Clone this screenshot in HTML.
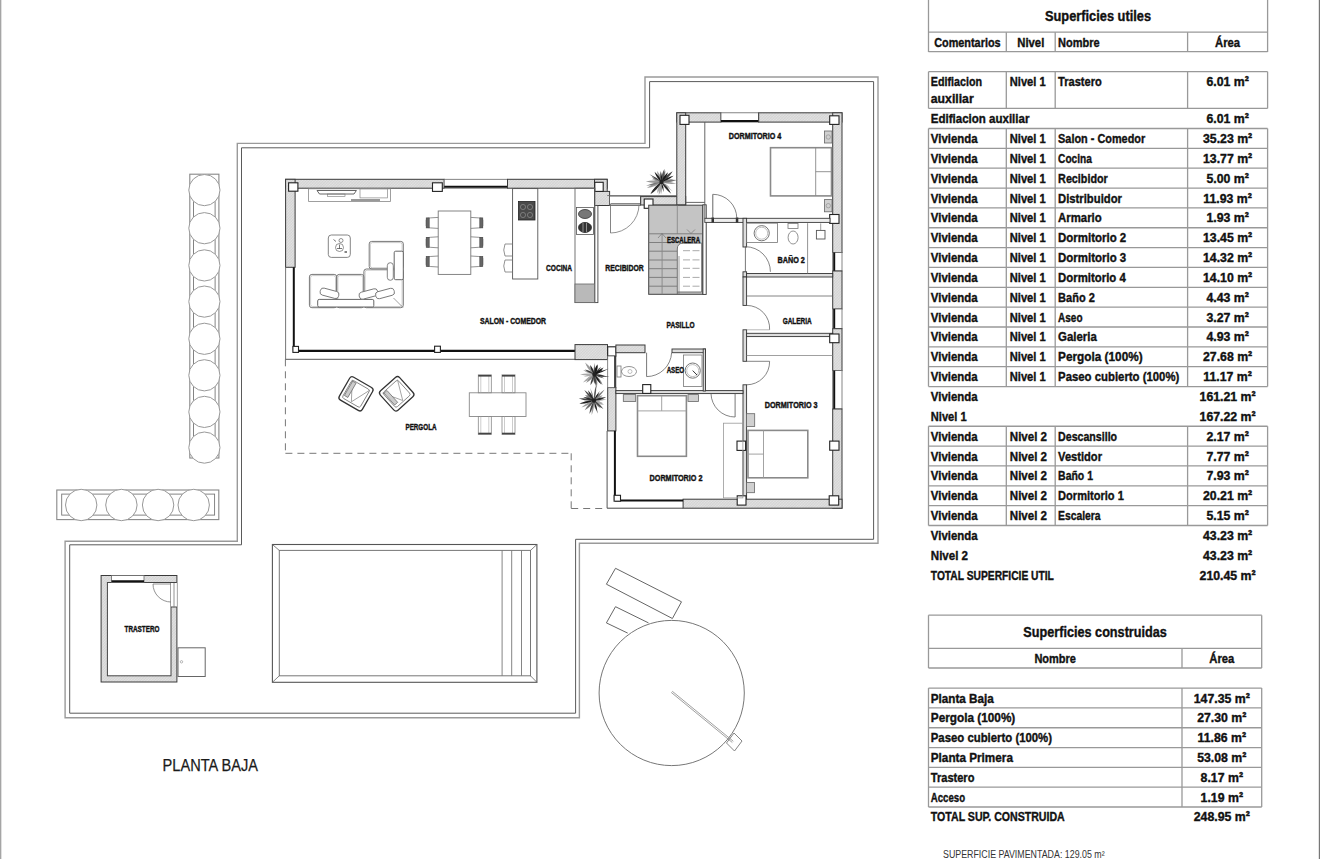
<!DOCTYPE html>
<html><head><meta charset="utf-8"><style>
html,body{margin:0;padding:0;background:#fff;width:1320px;height:859px;overflow:hidden}
svg{display:block;font-family:"Liberation Sans",sans-serif}
</style></head><body>
<svg width="1320" height="859" viewBox="0 0 1320 859">
<defs>
<pattern id="hat" patternUnits="userSpaceOnUse" width="2" height="2" patternTransform="rotate(45)">
<rect width="2" height="2" fill="#e4e4e4"/><line x1="0" y1="0" x2="0" y2="2" stroke="#c2c2c2" stroke-width="0.8"/><line x1="0" y1="0" x2="2" y2="0" stroke="#c8c8c8" stroke-width="0.6"/></pattern>
</defs>
<rect width="1320" height="859" fill="#fff"/>
<line x1="0.5" y1="0" x2="0.5" y2="859" stroke="#a5a5a5" stroke-width="1"/>
<line x1="1.5" y1="0" x2="1.5" y2="859" stroke="#e0e0e0" stroke-width="1"/>
<line x1="1319.4" y1="0" x2="1319.4" y2="859" stroke="#777" stroke-width="1.2"/>
<g id="plan">
<polygon points="645.0,77.0 878.0,77.0 878.0,543.2 579.4,543.2 579.4,717.8 65.1,717.8 65.1,541.3 237.3,541.3 237.3,143.4 645.0,143.4" fill="none" stroke="#9a9a9a" stroke-width="1.4"/>
<polygon points="649.6,81.6 873.6,81.6 873.6,539.3 575.6,539.3 575.6,713.2 69.7,713.2 69.7,544.8 241.5,544.8 241.5,147.8 649.6,147.8" fill="none" stroke="#5a5a5a" stroke-width="1"/>
<rect x="189.8" y="174.2" width="29.1" height="283.8" fill="none" stroke="#888" stroke-width="1.1" />
<rect x="193.5" y="182.0" width="21.6" height="268.0" fill="none" stroke="#777" stroke-width="0.9" />
<circle cx="204.4" cy="190.1" r="15.6" fill="#fff" stroke="#999" stroke-width="1"/>
<circle cx="204.4" cy="228.2" r="15.6" fill="#fff" stroke="#999" stroke-width="1"/>
<circle cx="204.4" cy="265.4" r="15.6" fill="#fff" stroke="#999" stroke-width="1"/>
<circle cx="204.4" cy="301.6" r="15.6" fill="#fff" stroke="#999" stroke-width="1"/>
<circle cx="204.4" cy="338.8" r="15.6" fill="#fff" stroke="#999" stroke-width="1"/>
<circle cx="204.4" cy="375.3" r="15.6" fill="#fff" stroke="#999" stroke-width="1"/>
<circle cx="204.4" cy="411.9" r="15.6" fill="#fff" stroke="#999" stroke-width="1"/>
<circle cx="204.4" cy="447.6" r="15.6" fill="#fff" stroke="#999" stroke-width="1"/>
<rect x="56.8" y="490.0" width="162.0" height="29.6" fill="none" stroke="#888" stroke-width="1.1" />
<rect x="61.7" y="494.1" width="152.9" height="21.0" fill="none" stroke="#777" stroke-width="0.9" />
<circle cx="81.2" cy="505.0" r="15.7" fill="#fff" stroke="#999" stroke-width="1"/>
<circle cx="121.4" cy="505.0" r="15.7" fill="#fff" stroke="#999" stroke-width="1"/>
<circle cx="158.1" cy="505.0" r="15.7" fill="#fff" stroke="#999" stroke-width="1"/>
<circle cx="193.7" cy="505.0" r="15.7" fill="#fff" stroke="#999" stroke-width="1"/>
<rect x="272.4" y="544.5" width="264.5" height="137.8" fill="none" stroke="#555" stroke-width="1.1" />
<rect x="279.3" y="550.4" width="251.2" height="125.4" fill="none" stroke="#777" stroke-width="1" />
<line x1="272.4" y1="544.5" x2="279.3" y2="550.4" stroke="#666" stroke-width="0.8"/>
<line x1="536.9" y1="544.5" x2="530.5" y2="550.4" stroke="#666" stroke-width="0.8"/>
<line x1="272.4" y1="682.3" x2="279.3" y2="675.8" stroke="#666" stroke-width="0.8"/>
<line x1="536.9" y1="682.3" x2="530.5" y2="675.8" stroke="#666" stroke-width="0.8"/>
<line x1="502.1" y1="550.4" x2="502.1" y2="675.8" stroke="#777" stroke-width="0.9"/>
<line x1="511.7" y1="550.4" x2="511.7" y2="675.8" stroke="#777" stroke-width="0.9"/>
<line x1="521.5" y1="550.4" x2="521.5" y2="675.8" stroke="#777" stroke-width="0.9"/>
<rect x="101.1" y="575.5" width="75.8" height="106.5" fill="url(#hat)" stroke="#3a3a3a" stroke-width="1" />
<rect x="107.4" y="582.5" width="63.6" height="93.3" fill="#fff" stroke="#444" stroke-width="1" />
<rect x="111.6" y="575.5" width="32.4" height="7.0" fill="#fff" stroke="#666" stroke-width="0.8" />
<line x1="111.6" y1="581.2" x2="144.0" y2="581.2" stroke="#111" stroke-width="2"/>
<rect x="171.0" y="582.5" width="5.9" height="24.5" fill="#fff" stroke="none" stroke-width="0" />
<line x1="171.0" y1="582.5" x2="176.9" y2="582.5" stroke="#444" stroke-width="1"/>
<line x1="171.0" y1="607.0" x2="176.9" y2="607.0" stroke="#444" stroke-width="1"/>
<line x1="174.0" y1="583.0" x2="174.0" y2="607.0" stroke="#777" stroke-width="0.8"/>
<path d="M153,584 A18,18 0 0 0 171,602" fill="none" stroke="#777" stroke-width="0.8"/>
<line x1="153.0" y1="584.0" x2="171.0" y2="584.0" stroke="#777" stroke-width="0.8"/>
<rect x="178.0" y="647.8" width="27.2" height="28.7" fill="none" stroke="#666" stroke-width="1" />
<circle cx="181.5" cy="661.8" r="1.2" fill="none" stroke="#888" stroke-width="0.6"/>
<text x="142.0" y="632.3" font-size="8.8" font-weight="bold" text-anchor="middle" textLength="35.0" lengthAdjust="spacingAndGlyphs" fill="#111" stroke="#111" stroke-width="0.4">TRASTERO</text>
<line x1="285.4" y1="359.3" x2="285.4" y2="453.3" stroke="#777" stroke-width="1" stroke-dasharray="7,5"/>
<line x1="285.4" y1="453.3" x2="571.2" y2="453.3" stroke="#777" stroke-width="1" stroke-dasharray="7,5"/>
<line x1="571.2" y1="453.3" x2="571.2" y2="508.5" stroke="#777" stroke-width="1" stroke-dasharray="7,5"/>
<line x1="571.2" y1="508.5" x2="607.0" y2="508.5" stroke="#777" stroke-width="1" stroke-dasharray="7,5"/>
<line x1="285.4" y1="359.3" x2="575.0" y2="359.3" stroke="#555" stroke-width="1"/>
<rect x="285.6" y="179.3" width="158.6" height="8.9" fill="url(#hat)" stroke="#3a3a3a" stroke-width="1" />
<rect x="444.2" y="179.3" width="63.3" height="8.9" fill="#fff" stroke="#666" stroke-width="0.8" />
<line x1="444.2" y1="186.8" x2="507.5" y2="186.8" stroke="#111" stroke-width="2"/>
<rect x="507.5" y="179.3" width="99.7" height="8.9" fill="url(#hat)" stroke="#3a3a3a" stroke-width="1" />
<rect x="594.5" y="179.3" width="12.7" height="16.8" fill="url(#hat)" stroke="#3a3a3a" stroke-width="1" />
<rect x="594.5" y="191.4" width="15.1" height="14.1" fill="url(#hat)" stroke="#3a3a3a" stroke-width="1" />
<rect x="285.6" y="179.3" width="9.5" height="88.0" fill="url(#hat)" stroke="#3a3a3a" stroke-width="1" />
<line x1="285.6" y1="267.3" x2="285.6" y2="359.3" stroke="#666" stroke-width="0.9"/>
<line x1="293.8" y1="267.3" x2="293.8" y2="350.4" stroke="#111" stroke-width="2"/>
<line x1="293.0" y1="350.8" x2="575.0" y2="350.8" stroke="#111" stroke-width="2.2"/>
<rect x="288.6" y="182.8" width="9.3" height="8.4" fill="#fff" stroke="#222" stroke-width="1.1" />
<rect x="432.5" y="182.8" width="9.8" height="8.6" fill="#fff" stroke="#222" stroke-width="1.1" />
<rect x="594.8" y="182.3" width="8.4" height="9.1" fill="#fff" stroke="#222" stroke-width="1.1" />
<rect x="292.9" y="346.4" width="5.6" height="6.0" fill="#fff" stroke="#222" stroke-width="1.1" />
<rect x="434.6" y="346.2" width="5.8" height="6.2" fill="#fff" stroke="#222" stroke-width="1.1" />
<rect x="575.0" y="344.6" width="32.5" height="15.0" fill="url(#hat)" stroke="#3a3a3a" stroke-width="1" />
<rect x="607.7" y="346.8" width="8.2" height="9.3" fill="#fff" stroke="#222" stroke-width="1.1" />
<rect x="615.9" y="345.0" width="29.1" height="7.7" fill="url(#hat)" stroke="#3a3a3a" stroke-width="1" />
<rect x="594.6" y="205.5" width="3.3" height="97.1" fill="#fff" stroke="#444" stroke-width="0.9" />
<rect x="575.0" y="188.2" width="19.9" height="114.4" fill="none" stroke="#666" stroke-width="0.9" />
<rect x="575.0" y="284.0" width="19.6" height="18.6" fill="#b9b9b9" stroke="#666" stroke-width="0.8" />
<rect x="576.5" y="207.5" width="17.0" height="27.0" fill="#fff" stroke="#555" stroke-width="0.8" />
<ellipse cx="585" cy="214" rx="6.5" ry="4.5" fill="#777" stroke="#333" stroke-width="0.8"/>
<ellipse cx="585" cy="227.5" rx="6.5" ry="5" fill="#333" stroke="#222" stroke-width="0.8"/>
<line x1="583.0" y1="223.0" x2="583.0" y2="232.0" stroke="#aaa" stroke-width="0.8"/>
<line x1="586.5" y1="223.0" x2="586.5" y2="232.0" stroke="#aaa" stroke-width="0.8"/>
<rect x="512.6" y="188.6" width="25.2" height="90.4" fill="none" stroke="#555" stroke-width="0.9" />
<rect x="518.5" y="201.5" width="16.5" height="18.5" fill="#4a4a4a" stroke="#222" stroke-width="0.8" />
<circle cx="523.0" cy="207.0" r="2.6" fill="none" stroke="#999" stroke-width="0.6"/>
<circle cx="530.0" cy="207.0" r="2.6" fill="none" stroke="#999" stroke-width="0.6"/>
<circle cx="523.0" cy="215.0" r="2.6" fill="none" stroke="#999" stroke-width="0.6"/>
<circle cx="530.0" cy="215.0" r="2.6" fill="none" stroke="#999" stroke-width="0.6"/>
<path d="M512.6,244 L505,244 Q502.5,250 505,256 L512.6,256" fill="none" stroke="#777" stroke-width="0.8"/>
<path d="M512.6,260 L505,260 Q502.5,266 505,272 L512.6,272" fill="none" stroke="#777" stroke-width="0.8"/>
<rect x="609.6" y="196.1" width="30.9" height="9.4" fill="#fff" stroke="#555" stroke-width="0.8" />
<line x1="610.5" y1="203.8" x2="640.0" y2="203.8" stroke="#888" stroke-width="1.6"/>
<line x1="610.5" y1="204.0" x2="610.5" y2="233.0" stroke="#666" stroke-width="0.8"/>
<path d="M610.5,233 A28.5,28.5 0 0 0 639,204.5" fill="none" stroke="#777" stroke-width="0.8"/>
<rect x="640.7" y="196.6" width="45.0" height="8.4" fill="url(#hat)" stroke="#3a3a3a" stroke-width="1" />
<rect x="644.2" y="199.0" width="8.8" height="9.3" fill="#fff" stroke="#222" stroke-width="1.1" />
<line x1="607.2" y1="195.5" x2="676.8" y2="195.5" stroke="#666" stroke-width="0.8"/>
<rect x="648.7" y="205.2" width="54.2" height="89.1" fill="#c4c4c4" stroke="#444" stroke-width="1" />
<line x1="677.3" y1="205.2" x2="677.3" y2="233.8" stroke="#8a8a8a" stroke-width="0.9"/>
<line x1="648.7" y1="233.8" x2="702.9" y2="233.8" stroke="#777" stroke-width="0.9"/>
<line x1="648.7" y1="242.5" x2="677.3" y2="242.5" stroke="#777" stroke-width="0.9"/>
<line x1="648.7" y1="251.2" x2="677.3" y2="251.2" stroke="#777" stroke-width="0.9"/>
<line x1="648.7" y1="260.0" x2="677.3" y2="260.0" stroke="#777" stroke-width="0.9"/>
<line x1="648.7" y1="268.7" x2="677.3" y2="268.7" stroke="#777" stroke-width="0.9"/>
<line x1="648.7" y1="277.4" x2="677.3" y2="277.4" stroke="#777" stroke-width="0.9"/>
<line x1="648.7" y1="286.2" x2="677.3" y2="286.2" stroke="#777" stroke-width="0.9"/>
<line x1="662.1" y1="233.8" x2="662.1" y2="294.3" stroke="#888" stroke-width="0.9"/>
<path d="M677.3,294 L677.3,249 Q677.3,243.1 683.5,243.1 L701.7,243.1 L701.7,292 L677.3,292" fill="#fff" stroke="#666" stroke-width="0.9"/>
<line x1="679.0" y1="256.0" x2="679.0" y2="294.0" stroke="#777" stroke-width="0.7"/>
<line x1="683.0" y1="250.7" x2="690.0" y2="250.7" stroke="#aaa" stroke-width="1"/>
<line x1="692.5" y1="250.7" x2="699.5" y2="250.7" stroke="#aaa" stroke-width="1"/>
<line x1="683.0" y1="259.9" x2="690.0" y2="259.9" stroke="#aaa" stroke-width="1"/>
<line x1="692.5" y1="259.9" x2="699.5" y2="259.9" stroke="#aaa" stroke-width="1"/>
<line x1="683.0" y1="268.3" x2="690.0" y2="268.3" stroke="#aaa" stroke-width="1"/>
<line x1="692.5" y1="268.3" x2="699.5" y2="268.3" stroke="#aaa" stroke-width="1"/>
<line x1="683.0" y1="277.4" x2="690.0" y2="277.4" stroke="#aaa" stroke-width="1"/>
<line x1="692.5" y1="277.4" x2="699.5" y2="277.4" stroke="#aaa" stroke-width="1"/>
<line x1="683.0" y1="286.2" x2="690.0" y2="286.2" stroke="#aaa" stroke-width="1"/>
<line x1="692.5" y1="286.2" x2="699.5" y2="286.2" stroke="#aaa" stroke-width="1"/>
<path d="M658,238 L662,233.5 L666,238" fill="none" stroke="#666" stroke-width="0.6"/>
<path d="M687,229.5 L691,233.5 L695,229.5" fill="none" stroke="#666" stroke-width="0.6"/>
<rect x="702.9" y="204.8" width="3.3" height="89.6" fill="#fff" stroke="#333" stroke-width="0.9" />
<rect x="676.8" y="112.8" width="44.2" height="9.3" fill="url(#hat)" stroke="#3a3a3a" stroke-width="1" />
<rect x="721.0" y="112.8" width="37.7" height="9.3" fill="#fff" stroke="#666" stroke-width="0.8" />
<line x1="721.0" y1="121.0" x2="758.7" y2="121.0" stroke="#111" stroke-width="2"/>
<rect x="758.7" y="112.8" width="83.3" height="9.3" fill="url(#hat)" stroke="#3a3a3a" stroke-width="1" />
<rect x="676.8" y="112.8" width="8.9" height="92.0" fill="url(#hat)" stroke="#3a3a3a" stroke-width="1" />
<rect x="832.7" y="112.8" width="9.3" height="139.7" fill="url(#hat)" stroke="#3a3a3a" stroke-width="1" />
<rect x="832.7" y="252.5" width="9.3" height="18.5" fill="#fff" stroke="#666" stroke-width="0.8" />
<line x1="834.2" y1="252.5" x2="834.2" y2="271.0" stroke="#111" stroke-width="2"/>
<rect x="832.7" y="271.0" width="9.3" height="38.0" fill="url(#hat)" stroke="#3a3a3a" stroke-width="1" />
<rect x="832.7" y="309.0" width="9.3" height="19.7" fill="#fff" stroke="#666" stroke-width="0.8" />
<line x1="834.2" y1="309.0" x2="834.2" y2="328.7" stroke="#111" stroke-width="2"/>
<rect x="832.7" y="328.7" width="9.3" height="41.9" fill="url(#hat)" stroke="#3a3a3a" stroke-width="1" />
<rect x="832.7" y="370.6" width="9.3" height="38.4" fill="#fff" stroke="#666" stroke-width="0.8" />
<line x1="834.2" y1="370.6" x2="834.2" y2="409.0" stroke="#111" stroke-width="2"/>
<rect x="832.7" y="409.0" width="9.3" height="99.2" fill="url(#hat)" stroke="#3a3a3a" stroke-width="1" />
<rect x="680.0" y="115.3" width="9.0" height="9.1" fill="#fff" stroke="#222" stroke-width="1.1" />
<rect x="829.7" y="115.8" width="9.3" height="8.6" fill="#fff" stroke="#222" stroke-width="1.1" />
<rect x="829.7" y="214.5" width="9.3" height="8.9" fill="#fff" stroke="#222" stroke-width="1.1" />
<line x1="704.8" y1="122.1" x2="704.8" y2="218.7" stroke="#555" stroke-width="0.9"/>
<line x1="685.7" y1="202.4" x2="704.8" y2="202.4" stroke="#555" stroke-width="0.9"/>
<rect x="704.8" y="218.3" width="125.2" height="4.1" fill="#eee" stroke="#3a3a3a" stroke-width="0.9" />
<rect x="711.5" y="217.5" width="2.5" height="5.0" fill="#333" stroke="none" stroke-width="0" />
<rect x="735.8" y="217.5" width="2.5" height="5.0" fill="#333" stroke="none" stroke-width="0" />
<line x1="712.8" y1="194.3" x2="712.8" y2="218.3" stroke="#555" stroke-width="0.9"/>
<path d="M712.8,194.3 A24,24 0 0 1 736.8,218.3" fill="none" stroke="#666" stroke-width="0.8"/>
<rect x="770.5" y="147.7" width="61.0" height="48.2" fill="none" stroke="#8a8a8a" stroke-width="1.6" />
<line x1="815.7" y1="147.7" x2="815.7" y2="195.9" stroke="#888" stroke-width="0.9"/>
<line x1="815.7" y1="171.7" x2="831.5" y2="171.7" stroke="#888" stroke-width="0.9"/>
<rect x="824.6" y="131.0" width="7.4" height="12.0" fill="#d0d0d0" stroke="#666" stroke-width="0.8" />
<rect x="824.6" y="199.6" width="7.4" height="12.2" fill="#d0d0d0" stroke="#666" stroke-width="0.8" />
<circle cx="828.3" cy="137.0" r="2.2" fill="none" stroke="#888" stroke-width="0.6"/>
<circle cx="828.3" cy="205.7" r="2.2" fill="none" stroke="#888" stroke-width="0.6"/>
<text x="755.0" y="138.9" font-size="8.8" font-weight="bold" text-anchor="middle" textLength="52.4" lengthAdjust="spacingAndGlyphs" fill="#111" stroke="#111" stroke-width="0.4">DORMITORIO 4</text>
<rect x="743.0" y="218.3" width="3.6" height="28.7" fill="#ddd" stroke="#333" stroke-width="0.9" />
<rect x="743.0" y="271.8" width="3.6" height="5.2" fill="#ddd" stroke="#333" stroke-width="0.9" />
<rect x="746.6" y="273.5" width="86.1" height="3.5" fill="#ddd" stroke="#333" stroke-width="0.9" />
<rect x="746.6" y="223.2" width="30.9" height="19.3" fill="none" stroke="#777" stroke-width="0.8" />
<circle cx="761.7" cy="233.2" r="7.6" fill="none" stroke="#666" stroke-width="0.9"/>
<circle cx="761.7" cy="233.2" r="6.0" fill="none" stroke="#999" stroke-width="0.6"/>
<line x1="807.6" y1="223.2" x2="807.6" y2="273.5" stroke="#777" stroke-width="0.8"/>
<ellipse cx="793.1" cy="237.5" rx="5" ry="6.5" fill="none" stroke="#777" stroke-width="0.8"/>
<rect x="788.0" y="223.4" width="10.0" height="5.1" fill="none" stroke="#777" stroke-width="0.8" />
<rect x="816.4" y="230.4" width="8.6" height="8.6" fill="none" stroke="#555" stroke-width="0.9" />
<line x1="820.7" y1="223.4" x2="820.7" y2="230.4" stroke="#777" stroke-width="0.7"/>
<line x1="745.4" y1="246.7" x2="745.4" y2="271.8" stroke="#555" stroke-width="0.8"/>
<path d="M745.4,246.7 A25,25 0 0 1 770.4,271.8" fill="none" stroke="#666" stroke-width="0.8"/>
<text x="791.2" y="263.2" font-size="8.8" font-weight="bold" text-anchor="middle" textLength="27.3" lengthAdjust="spacingAndGlyphs" fill="#111" stroke="#111" stroke-width="0.4">BAÑO 2</text>
<rect x="743.0" y="277.0" width="3.6" height="28.4" fill="#ddd" stroke="#333" stroke-width="0.9" />
<rect x="743.0" y="329.8" width="3.6" height="31.5" fill="#ddd" stroke="#333" stroke-width="0.9" />
<rect x="746.6" y="333.3" width="86.1" height="3.3" fill="#ddd" stroke="#333" stroke-width="0.9" />
<line x1="746.6" y1="296.0" x2="832.7" y2="296.0" stroke="#666" stroke-width="0.8"/>
<path d="M746.6,305.4 A23,23 0 0 1 769.6,329.8" fill="none" stroke="#666" stroke-width="0.8"/>
<line x1="746.6" y1="329.8" x2="769.6" y2="329.8" stroke="#888" stroke-width="0.6"/>
<text x="797.2" y="323.8" font-size="8.8" font-weight="bold" text-anchor="middle" textLength="29.1" lengthAdjust="spacingAndGlyphs" fill="#111" stroke="#111" stroke-width="0.4">GALERIA</text>
<rect x="829.7" y="334.0" width="9.3" height="8.7" fill="#fff" stroke="#222" stroke-width="1.1" />
<line x1="746.6" y1="355.5" x2="832.7" y2="355.5" stroke="#888" stroke-width="0.8"/>
<line x1="746.6" y1="361.3" x2="769.6" y2="361.3" stroke="#666" stroke-width="0.8"/>
<path d="M769.6,361.3 A23,23 0 0 1 746.6,384.8" fill="none" stroke="#666" stroke-width="0.8"/>
<rect x="743.0" y="384.8" width="3.6" height="115.2" fill="#ddd" stroke="#333" stroke-width="0.9" />
<rect x="737.0" y="441.1" width="8.6" height="9.3" fill="#fff" stroke="#222" stroke-width="1.1" />
<rect x="829.7" y="441.1" width="9.3" height="9.1" fill="#fff" stroke="#222" stroke-width="1.1" />
<rect x="748.0" y="430.4" width="59.8" height="47.4" fill="none" stroke="#8a8a8a" stroke-width="1.6" />
<line x1="763.5" y1="430.4" x2="763.5" y2="477.8" stroke="#999" stroke-width="0.9"/>
<line x1="748.0" y1="454.1" x2="763.5" y2="454.1" stroke="#999" stroke-width="0.9"/>
<rect x="746.6" y="413.7" width="8.1" height="12.8" fill="#d0d0d0" stroke="#666" stroke-width="0.8" />
<rect x="746.6" y="482.4" width="7.9" height="10.3" fill="#d0d0d0" stroke="#666" stroke-width="0.8" />
<text x="791.2" y="408.4" font-size="8.8" font-weight="bold" text-anchor="middle" textLength="52.8" lengthAdjust="spacingAndGlyphs" fill="#111" stroke="#111" stroke-width="0.4">DORMITORIO 3</text>
<rect x="683.1" y="499.2" width="158.9" height="9.0" fill="url(#hat)" stroke="#3a3a3a" stroke-width="1" />
<rect x="737.2" y="495.8" width="8.8" height="9.3" fill="#fff" stroke="#222" stroke-width="1.1" />
<rect x="829.2" y="495.8" width="9.5" height="9.3" fill="#fff" stroke="#222" stroke-width="1.1" />
<rect x="607.7" y="387.6" width="8.2" height="43.3" fill="url(#hat)" stroke="#3a3a3a" stroke-width="1" />
<line x1="615.9" y1="430.9" x2="615.9" y2="431.0" stroke="#666" stroke-width="0.5"/>
<line x1="614.9" y1="430.9" x2="614.9" y2="500.0" stroke="#111" stroke-width="2"/>
<line x1="607.1" y1="430.9" x2="607.1" y2="508.2" stroke="#555" stroke-width="1"/>
<line x1="607.1" y1="508.2" x2="683.1" y2="508.2" stroke="#444" stroke-width="1"/>
<line x1="615.0" y1="500.5" x2="683.1" y2="500.5" stroke="#111" stroke-width="2.2"/>
<rect x="614.1" y="495.3" width="6.4" height="5.9" fill="#fff" stroke="#222" stroke-width="1.1" />
<rect x="615.9" y="390.6" width="127.1" height="3.0" fill="#ddd" stroke="#333" stroke-width="0.9" />
<rect x="642.7" y="384.6" width="8.1" height="8.8" fill="#fff" stroke="#222" stroke-width="1.1" />
<line x1="735.1" y1="393.6" x2="735.1" y2="417.0" stroke="#555" stroke-width="0.8"/>
<path d="M711,393.6 A24,24 0 0 0 735.1,417" fill="none" stroke="#666" stroke-width="0.8"/>
<rect x="637.5" y="395.7" width="48.9" height="60.6" fill="none" stroke="#8a8a8a" stroke-width="1.6" />
<line x1="637.5" y1="410.9" x2="686.4" y2="410.9" stroke="#999" stroke-width="0.9"/>
<line x1="661.7" y1="395.7" x2="661.7" y2="410.9" stroke="#999" stroke-width="0.9"/>
<rect x="623.3" y="394.6" width="12.4" height="6.9" fill="#d0d0d0" stroke="#666" stroke-width="0.8" />
<rect x="688.0" y="394.6" width="10.5" height="6.9" fill="#d0d0d0" stroke="#666" stroke-width="0.8" />
<rect x="723.6" y="423.2" width="19.3" height="74.7" fill="none" stroke="#999" stroke-width="0.8" />
<text x="676.0" y="480.8" font-size="8.8" font-weight="bold" text-anchor="middle" textLength="52.9" lengthAdjust="spacingAndGlyphs" fill="#111" stroke="#111" stroke-width="0.4">DORMITORIO 2</text>
<rect x="672.0" y="349.0" width="33.5" height="3.7" fill="#ddd" stroke="#333" stroke-width="0.9" />
<rect x="703.2" y="349.0" width="2.3" height="42.0" fill="#ddd" stroke="#333" stroke-width="0.9" />
<rect x="607.7" y="356.0" width="8.2" height="31.6" fill="#fff" stroke="#666" stroke-width="0.8" />
<line x1="615.0" y1="356.0" x2="615.0" y2="387.6" stroke="#222" stroke-width="1.6"/>
<rect x="683.4" y="355.0" width="18.6" height="31.4" fill="none" stroke="#777" stroke-width="0.8" />
<circle cx="692.7" cy="370.6" r="7.6" fill="none" stroke="#666" stroke-width="0.9"/>
<circle cx="692.7" cy="370.6" r="6.0" fill="none" stroke="#999" stroke-width="0.6"/>
<line x1="692.7" y1="370.6" x2="697.0" y2="375.0" stroke="#333" stroke-width="1"/>
<ellipse cx="629" cy="371.5" rx="7.5" ry="5" fill="none" stroke="#777" stroke-width="0.8"/>
<rect x="617.0" y="366.0" width="4.0" height="11.0" fill="none" stroke="#777" stroke-width="0.8" />
<circle cx="630.0" cy="371.5" r="2.0" fill="none" stroke="#999" stroke-width="0.6"/>
<line x1="646.6" y1="352.7" x2="646.6" y2="376.6" stroke="#555" stroke-width="0.8"/>
<path d="M646.6,376.6 A25,25 0 0 0 671.6,352.7" fill="none" stroke="#666" stroke-width="0.8"/>
<text x="675.4" y="372.5" font-size="8.8" font-weight="bold" text-anchor="middle" textLength="17.5" lengthAdjust="spacingAndGlyphs" fill="#111" stroke="#111" stroke-width="0.4">ASEO</text>
<text x="680.6" y="328.0" font-size="8.8" font-weight="bold" text-anchor="middle" textLength="28.0" lengthAdjust="spacingAndGlyphs" fill="#111" stroke="#111" stroke-width="0.4">PASILLO</text>
<text x="559.0" y="271.0" font-size="8.8" font-weight="bold" text-anchor="middle" textLength="26.0" lengthAdjust="spacingAndGlyphs" fill="#111" stroke="#111" stroke-width="0.4">COCINA</text>
<text x="624.5" y="271.0" font-size="8.8" font-weight="bold" text-anchor="middle" textLength="38.5" lengthAdjust="spacingAndGlyphs" fill="#111" stroke="#111" stroke-width="0.4">RECIBIDOR</text>
<text x="513.0" y="323.7" font-size="8.8" font-weight="bold" text-anchor="middle" textLength="66.0" lengthAdjust="spacingAndGlyphs" fill="#111" stroke="#111" stroke-width="0.4">SALON - COMEDOR</text>
<text x="683.5" y="242.5" font-size="8.8" font-weight="bold" text-anchor="middle" textLength="33.1" lengthAdjust="spacingAndGlyphs" fill="#111" stroke="#111" stroke-width="0.4">ESCALERA</text>
<text x="421.0" y="430.4" font-size="8.8" font-weight="bold" text-anchor="middle" textLength="31.1" lengthAdjust="spacingAndGlyphs" fill="#111" stroke="#111" stroke-width="0.4">PERGOLA</text>
<rect x="308.6" y="188.8" width="81.9" height="12.6" fill="none" stroke="#888" stroke-width="0.8" />
<path d="M317,190.5 L356.4,190.5 L354,194 L319.5,194 Z" fill="none" stroke="#555" stroke-width="0.9"/>
<rect x="327.6" y="194.0" width="17.4" height="2.6" fill="none" stroke="#777" stroke-width="0.6" />
<rect x="360.0" y="188.8" width="27.4" height="9.1" fill="none" stroke="#888" stroke-width="0.7" />
<line x1="351.0" y1="200.0" x2="380.0" y2="200.0" stroke="#555" stroke-width="1.2"/>
<rect x="328.3" y="235.0" width="22.0" height="22.4" rx="3" fill="none" stroke="#777" stroke-width="0.9"/>
<circle cx="341.0" cy="240.5" r="2.0" fill="none" stroke="#666" stroke-width="0.7"/>
<circle cx="339.5" cy="247.5" r="4.0" fill="none" stroke="#666" stroke-width="0.7"/>
<line x1="337.0" y1="248.5" x2="342.0" y2="248.5" stroke="#555" stroke-width="0.8"/>
<line x1="339.5" y1="244.5" x2="339.5" y2="249.0" stroke="#555" stroke-width="0.8"/>
<line x1="333.5" y1="239.5" x2="336.0" y2="241.5" stroke="#555" stroke-width="0.8"/>
<line x1="344.5" y1="252.0" x2="347.0" y2="252.0" stroke="#333" stroke-width="1.2"/>
<rect x="309.4" y="274.4" width="27.3" height="33.3" rx="2.5" fill="none" stroke="#777" stroke-width="1"/>
<rect x="336.7" y="274.4" width="27.2" height="33.3" rx="2.5" fill="none" stroke="#777" stroke-width="1"/>
<rect x="363.9" y="269.0" width="39.4" height="38.7" rx="2.5" fill="none" stroke="#777" stroke-width="1"/>
<rect x="369.2" y="241.4" width="34.1" height="27.6" rx="2.5" fill="none" stroke="#777" stroke-width="1"/>
<rect x="310.6" y="275.6" width="24.9" height="30.9" rx="2" fill="none" stroke="#aaa" stroke-width="0.6"/>
<rect x="337.9" y="275.6" width="24.8" height="30.9" rx="2" fill="none" stroke="#aaa" stroke-width="0.6"/>
<rect x="365.1" y="270.2" width="37.0" height="36.3" rx="2" fill="none" stroke="#aaa" stroke-width="0.6"/>
<rect x="370.4" y="242.6" width="31.7" height="25.2" rx="2" fill="none" stroke="#aaa" stroke-width="0.6"/>
<rect x="317.7" y="299.4" width="56.1" height="7.6" rx="1.5" fill="#fff" stroke="#666" stroke-width="1"/>
<rect x="394.2" y="251.2" width="9.1" height="28.5" rx="1.5" fill="#fff" stroke="#666" stroke-width="1"/>
<line x1="393.5" y1="298.0" x2="403.0" y2="307.5" stroke="#888" stroke-width="0.8"/>
<rect x="320.0" y="289.7" width="19.0" height="7.2" rx="3" transform="rotate(15 329.5 293.3)" fill="#fff" stroke="#777" stroke-width="0.9"/>
<rect x="359.0" y="290.4" width="19.0" height="7.2" rx="3" transform="rotate(-15 368.5 294)" fill="#fff" stroke="#777" stroke-width="0.9"/>
<rect x="375.5" y="289.9" width="19.0" height="7.2" rx="3" transform="rotate(-15 385 293.5)" fill="#fff" stroke="#777" stroke-width="0.9"/>
<rect x="387.3" y="262.7" width="6" height="17.6" rx="3" transform="rotate(0 390.3 271.5)" fill="#fff" stroke="#777" stroke-width="0.9"/>
<rect x="438.2" y="211.0" width="32.6" height="63.4" fill="none" stroke="#777" stroke-width="0.9" />
<path d="M438.2,217.4 L430.2,217.9 Q426.2,217.9 426.2,219.9 L426.2,225.9 Q426.2,227.9 430.2,227.9 L438.2,228.4" fill="none" stroke="#777" stroke-width="0.8"/>
<rect x="426.2" y="217.9" width="3.0" height="10.0" fill="#666" stroke="#444" stroke-width="0.6" />
<path d="M470.8,217.4 L478.8,217.9 Q482.8,217.9 482.8,219.9 L482.8,225.9 Q482.8,227.9 478.8,227.9 L470.8,228.4" fill="none" stroke="#777" stroke-width="0.8"/>
<rect x="479.8" y="217.9" width="3.0" height="10.0" fill="#666" stroke="#444" stroke-width="0.6" />
<path d="M438.2,236.8 L430.2,237.3 Q426.2,237.3 426.2,239.3 L426.2,245.3 Q426.2,247.3 430.2,247.3 L438.2,247.8" fill="none" stroke="#777" stroke-width="0.8"/>
<rect x="426.2" y="237.3" width="3.0" height="10.0" fill="#666" stroke="#444" stroke-width="0.6" />
<path d="M470.8,236.8 L478.8,237.3 Q482.8,237.3 482.8,239.3 L482.8,245.3 Q482.8,247.3 478.8,247.3 L470.8,247.8" fill="none" stroke="#777" stroke-width="0.8"/>
<rect x="479.8" y="237.3" width="3.0" height="10.0" fill="#666" stroke="#444" stroke-width="0.6" />
<path d="M438.2,256.0 L430.2,256.5 Q426.2,256.5 426.2,258.5 L426.2,264.5 Q426.2,266.5 430.2,266.5 L438.2,267.0" fill="none" stroke="#777" stroke-width="0.8"/>
<rect x="426.2" y="256.5" width="3.0" height="10.0" fill="#666" stroke="#444" stroke-width="0.6" />
<path d="M470.8,256.0 L478.8,256.5 Q482.8,256.5 482.8,258.5 L482.8,264.5 Q482.8,266.5 478.8,266.5 L470.8,267.0" fill="none" stroke="#777" stroke-width="0.8"/>
<rect x="479.8" y="256.5" width="3.0" height="10.0" fill="#666" stroke="#444" stroke-width="0.6" />
<g transform="translate(356 393.8) rotate(30)"><rect x="-13.25" y="-13.25" width="26.5" height="26.5" rx="3" fill="#fff" stroke="#333" stroke-width="1.3"/><rect x="-10.25" y="-10.25" width="20.5" height="20.5" rx="2" fill="none" stroke="#777" stroke-width="0.8"/><path d="M-10.25,-10.25 L0,9.25 L10.25,-10.25" fill="none" stroke="#888" stroke-width="0.7"/><rect x="-9.25" y="-9.25" width="4" height="16.5" fill="#ccc" stroke="#555" stroke-width="0.6"/></g>
<g transform="translate(396.7 393.8) rotate(-42)"><rect x="-13.0" y="-13.0" width="26" height="26" rx="3" fill="#fff" stroke="#333" stroke-width="1.3"/><rect x="-10.0" y="-10.0" width="20" height="20" rx="2" fill="none" stroke="#777" stroke-width="0.8"/><path d="M-10.0,-10.0 L0,9.0 L10.0,-10.0" fill="none" stroke="#888" stroke-width="0.7"/><rect x="-9.0" y="-9.0" width="4" height="16" fill="#ccc" stroke="#555" stroke-width="0.6"/></g>
<rect x="469.3" y="392.8" width="56.7" height="23.7" fill="none" stroke="#888" stroke-width="0.9" />
<rect x="478.3" y="374.8" width="13.0" height="18.0" fill="none" stroke="#888" stroke-width="0.8" />
<line x1="480.8" y1="374.8" x2="480.8" y2="392.8" stroke="#aaa" stroke-width="0.6"/>
<line x1="488.8" y1="374.8" x2="488.8" y2="392.8" stroke="#aaa" stroke-width="0.6"/>
<line x1="478.3" y1="375.8" x2="491.3" y2="375.8" stroke="#444" stroke-width="1.6"/>
<rect x="478.3" y="416.5" width="13.0" height="18.0" fill="none" stroke="#888" stroke-width="0.8" />
<line x1="480.8" y1="416.5" x2="480.8" y2="434.5" stroke="#aaa" stroke-width="0.6"/>
<line x1="488.8" y1="416.5" x2="488.8" y2="434.5" stroke="#aaa" stroke-width="0.6"/>
<line x1="478.3" y1="433.5" x2="491.3" y2="433.5" stroke="#444" stroke-width="1.6"/>
<rect x="502.0" y="374.8" width="13.0" height="18.0" fill="none" stroke="#888" stroke-width="0.8" />
<line x1="504.5" y1="374.8" x2="504.5" y2="392.8" stroke="#aaa" stroke-width="0.6"/>
<line x1="512.5" y1="374.8" x2="512.5" y2="392.8" stroke="#aaa" stroke-width="0.6"/>
<line x1="502.0" y1="375.8" x2="515.0" y2="375.8" stroke="#444" stroke-width="1.6"/>
<rect x="502.0" y="416.5" width="13.0" height="18.0" fill="none" stroke="#888" stroke-width="0.8" />
<line x1="504.5" y1="416.5" x2="504.5" y2="434.5" stroke="#aaa" stroke-width="0.6"/>
<line x1="512.5" y1="416.5" x2="512.5" y2="434.5" stroke="#aaa" stroke-width="0.6"/>
<line x1="502.0" y1="433.5" x2="515.0" y2="433.5" stroke="#444" stroke-width="1.6"/>
<path d="M661.5,182.0 Q665.8,187.3 672.9,191.6 Q667.5,185.3 661.5,182.0 Z" fill="#aaa" stroke="none"/>
<path d="M661.5,182.0 Q658.0,187.4 658.8,195.1 Q662.5,188.4 661.5,182.0 Z" fill="#aaa" stroke="none"/>
<path d="M661.5,182.0 Q657.4,186.3 657.0,193.3 Q661.5,187.9 661.5,182.0 Z" fill="#aaa" stroke="none"/>
<path d="M661.5,182.0 Q668.0,184.6 676.3,183.6 Q668.4,180.8 661.5,182.0 Z" fill="#9a9a9a" stroke="none"/>
<path d="M661.5,182.0 Q664.7,185.7 670.3,187.8 Q666.2,183.5 661.5,182.0 Z" fill="#9a9a9a" stroke="none"/>
<path d="M661.5,182.0 Q659.7,187.5 661.0,194.4 Q662.9,187.6 661.5,182.0 Z" fill="#9a9a9a" stroke="none"/>
<path d="M661.5,182.0 Q653.9,182.4 646.9,188.1 Q655.9,187.1 661.5,182.0 Z" fill="#9a9a9a" stroke="none"/>
<path d="M661.5,182.0 Q654.5,179.4 645.8,181.5 Q654.4,184.2 661.5,182.0 Z" fill="#9a9a9a" stroke="none"/>
<path d="M661.5,182.0 Q657.5,179.2 651.7,179.3 Q656.7,182.3 661.5,182.0 Z" fill="#9a9a9a" stroke="none"/>
<path d="M661.5,182.0 Q661.8,176.1 657.1,170.9 Q657.3,177.9 661.5,182.0 Z" fill="#9a9a9a" stroke="none"/>
<path d="M661.5,182.0 Q667.4,182.6 673.4,179.0 Q666.4,178.7 661.5,182.0 Z" fill="#9a9a9a" stroke="none"/>
<path d="M661.5,182.0 Q657.9,178.0 651.6,177.2 Q656.2,181.6 661.5,182.0 Z" fill="#8a8a8a" stroke="none"/>
<path d="M661.5,182.0 Q665.5,177.6 665.4,170.5 Q661.0,176.0 661.5,182.0 Z" fill="#8a8a8a" stroke="none"/>
<path d="M661.5,182.0 Q668.7,183.4 676.9,180.0 Q668.1,178.8 661.5,182.0 Z" fill="#777" stroke="none"/>
<path d="M661.5,182.0 Q654.2,182.2 646.0,185.8 Q654.9,185.2 661.5,182.0 Z" fill="#777" stroke="none"/>
<path d="M661.5,182.0 Q665.2,176.6 664.4,168.9 Q660.5,175.6 661.5,182.0 Z" fill="#555" stroke="none"/>
<path d="M661.5,182.0 Q656.9,177.3 649.5,174.2 Q655.3,179.7 661.5,182.0 Z" fill="#444" stroke="none"/>
<path d="M661.5,182.0 Q668.3,179.0 672.7,171.2 Q664.8,175.3 661.5,182.0 Z" fill="#444" stroke="none"/>
<path d="M661.5,182.0 Q664.2,188.6 671.2,193.7 Q667.4,186.0 661.5,182.0 Z" fill="#2a2a2a" stroke="none"/>
<path d="M661.5,182.0 Q655.2,185.9 650.4,193.5 Q657.8,188.5 661.5,182.0 Z" fill="#2a2a2a" stroke="none"/>
<path d="M661.5,182.0 Q654.8,185.9 650.5,194.2 Q658.3,189.1 661.5,182.0 Z" fill="#2a2a2a" stroke="none"/>
<path d="M661.5,182.0 Q661.2,186.7 663.7,191.9 Q663.8,186.1 661.5,182.0 Z" fill="#1a1a1a" stroke="none"/>
<path d="M661.5,182.0 Q659.9,176.3 654.5,171.7 Q656.7,178.4 661.5,182.0 Z" fill="#1a1a1a" stroke="none"/>
<path d="M661.5,182.0 Q662.8,176.9 660.8,171.0 Q659.6,177.2 661.5,182.0 Z" fill="#1a1a1a" stroke="none"/>
<path d="M661.5,182.0 Q666.1,178.8 668.0,172.3 Q662.7,176.5 661.5,182.0 Z" fill="#1a1a1a" stroke="none"/>
<path d="M661.5,182.0 Q667.8,180.8 673.6,175.8 Q666.1,177.5 661.5,182.0 Z" fill="#1a1a1a" stroke="none"/>
<circle cx="661.5" cy="182.0" r="2.2" fill="#222" stroke="none" stroke-width="0"/>
<path d="M594.5,374.5 Q588.8,375.4 585.2,381.2 Q591.8,379.6 594.5,374.5 Z" fill="#aaa" stroke="none"/>
<path d="M594.5,374.5 Q588.1,376.2 583.0,382.5 Q590.6,379.9 594.5,374.5 Z" fill="#aaa" stroke="none"/>
<path d="M594.5,374.5 Q589.4,373.8 583.8,376.5 Q590.0,377.0 594.5,374.5 Z" fill="#aaa" stroke="none"/>
<path d="M594.5,374.5 Q588.0,372.7 580.0,374.5 Q588.0,376.3 594.5,374.5 Z" fill="#aaa" stroke="none"/>
<path d="M594.5,374.5 Q590.2,370.6 583.2,369.9 Q588.7,374.3 594.5,374.5 Z" fill="#aaa" stroke="none"/>
<path d="M594.5,374.5 Q592.4,368.5 585.9,364.6 Q588.9,371.5 594.5,374.5 Z" fill="#aaa" stroke="none"/>
<path d="M594.5,374.5 Q593.2,380.1 597.1,385.8 Q598.1,379.0 594.5,374.5 Z" fill="#9a9a9a" stroke="none"/>
<path d="M594.5,374.5 Q592.0,367.8 585.0,362.6 Q588.5,370.5 594.5,374.5 Z" fill="#9a9a9a" stroke="none"/>
<path d="M594.5,374.5 Q596.3,380.6 602.7,384.9 Q600.0,377.7 594.5,374.5 Z" fill="#8a8a8a" stroke="none"/>
<path d="M594.5,374.5 Q589.4,377.1 586.0,383.1 Q592.0,379.6 594.5,374.5 Z" fill="#8a8a8a" stroke="none"/>
<path d="M594.5,374.5 Q598.6,377.7 604.7,376.5 Q599.5,373.1 594.5,374.5 Z" fill="#777" stroke="none"/>
<path d="M594.5,374.5 Q595.7,369.3 594.3,363.1 Q593.1,369.4 594.5,374.5 Z" fill="#555" stroke="none"/>
<path d="M594.5,374.5 Q598.7,372.1 601.0,366.7 Q596.2,369.9 594.5,374.5 Z" fill="#555" stroke="none"/>
<path d="M594.5,374.5 Q598.4,377.6 604.3,378.6 Q599.4,375.1 594.5,374.5 Z" fill="#444" stroke="none"/>
<path d="M594.5,374.5 Q594.0,381.3 596.7,389.1 Q597.0,380.9 594.5,374.5 Z" fill="#444" stroke="none"/>
<path d="M594.5,374.5 Q592.7,378.7 594.3,383.9 Q596.1,378.8 594.5,374.5 Z" fill="#444" stroke="none"/>
<path d="M594.5,374.5 Q590.8,378.6 590.4,385.3 Q594.5,380.0 594.5,374.5 Z" fill="#444" stroke="none"/>
<path d="M594.5,374.5 Q591.0,370.8 585.0,369.6 Q589.4,373.8 594.5,374.5 Z" fill="#444" stroke="none"/>
<path d="M594.5,374.5 Q601.0,377.0 609.5,377.0 Q601.5,374.3 594.5,374.5 Z" fill="#2a2a2a" stroke="none"/>
<path d="M594.5,374.5 Q594.3,369.3 590.1,364.9 Q590.7,371.0 594.5,374.5 Z" fill="#2a2a2a" stroke="none"/>
<path d="M594.5,374.5 Q598.2,370.5 597.5,364.2 Q593.5,369.2 594.5,374.5 Z" fill="#2a2a2a" stroke="none"/>
<path d="M594.5,374.5 Q596.1,379.9 601.2,384.5 Q598.9,378.1 594.5,374.5 Z" fill="#1a1a1a" stroke="none"/>
<path d="M594.5,374.5 Q597.8,370.8 597.4,365.0 Q593.9,369.6 594.5,374.5 Z" fill="#1a1a1a" stroke="none"/>
<path d="M594.5,374.5 Q599.5,374.3 602.7,369.3 Q596.9,370.1 594.5,374.5 Z" fill="#1a1a1a" stroke="none"/>
<path d="M594.5,374.5 Q599.6,372.7 603.7,367.6 Q597.7,370.1 594.5,374.5 Z" fill="#1a1a1a" stroke="none"/>
<path d="M594.5,374.5 Q601.3,373.1 608.6,368.7 Q600.3,370.7 594.5,374.5 Z" fill="#1a1a1a" stroke="none"/>
<circle cx="594.5" cy="374.5" r="2.2" fill="#222" stroke="none" stroke-width="0"/>
<path d="M594.0,400.5 Q599.8,401.7 606.6,399.3 Q599.5,398.2 594.0,400.5 Z" fill="#aaa" stroke="none"/>
<path d="M594.0,400.5 Q597.8,403.0 603.3,403.2 Q598.6,400.5 594.0,400.5 Z" fill="#aaa" stroke="none"/>
<path d="M594.0,400.5 Q597.5,404.8 603.9,404.7 Q599.5,400.0 594.0,400.5 Z" fill="#aaa" stroke="none"/>
<path d="M594.0,400.5 Q592.4,405.2 595.8,409.8 Q597.2,404.2 594.0,400.5 Z" fill="#aaa" stroke="none"/>
<path d="M594.0,400.5 Q592.0,395.9 586.3,394.7 Q589.1,399.8 594.0,400.5 Z" fill="#aaa" stroke="none"/>
<path d="M594.0,400.5 Q595.1,405.6 600.6,408.3 Q598.9,402.4 594.0,400.5 Z" fill="#9a9a9a" stroke="none"/>
<path d="M594.0,400.5 Q591.2,406.9 591.7,415.3 Q594.7,407.4 594.0,400.5 Z" fill="#9a9a9a" stroke="none"/>
<path d="M594.0,400.5 Q587.3,401.9 581.4,407.6 Q589.3,405.5 594.0,400.5 Z" fill="#9a9a9a" stroke="none"/>
<path d="M594.0,400.5 Q599.2,400.3 602.7,395.3 Q596.7,396.1 594.0,400.5 Z" fill="#9a9a9a" stroke="none"/>
<path d="M594.0,400.5 Q593.6,394.5 590.3,387.9 Q591.0,395.2 594.0,400.5 Z" fill="#8a8a8a" stroke="none"/>
<path d="M594.0,400.5 Q598.7,398.9 600.3,393.3 Q595.0,395.7 594.0,400.5 Z" fill="#8a8a8a" stroke="none"/>
<path d="M594.0,400.5 Q588.2,403.3 584.7,410.3 Q591.5,406.5 594.0,400.5 Z" fill="#777" stroke="none"/>
<path d="M594.0,400.5 Q591.2,395.9 585.0,394.9 Q588.7,400.0 594.0,400.5 Z" fill="#777" stroke="none"/>
<path d="M594.0,400.5 Q600.0,396.7 604.6,389.5 Q597.6,394.4 594.0,400.5 Z" fill="#777" stroke="none"/>
<path d="M594.0,400.5 Q589.9,402.8 587.3,407.8 Q592.1,404.8 594.0,400.5 Z" fill="#555" stroke="none"/>
<path d="M594.0,400.5 Q596.6,394.0 596.1,385.6 Q593.3,393.6 594.0,400.5 Z" fill="#555" stroke="none"/>
<path d="M594.0,400.5 Q597.0,405.7 603.4,409.1 Q599.4,403.0 594.0,400.5 Z" fill="#444" stroke="none"/>
<path d="M594.0,400.5 Q590.2,406.0 589.4,414.0 Q593.7,407.2 594.0,400.5 Z" fill="#444" stroke="none"/>
<path d="M594.0,400.5 Q587.4,397.5 578.7,398.5 Q586.8,401.8 594.0,400.5 Z" fill="#444" stroke="none"/>
<path d="M594.0,400.5 Q591.0,394.6 584.3,390.1 Q588.3,397.1 594.0,400.5 Z" fill="#444" stroke="none"/>
<path d="M594.0,400.5 Q589.8,397.0 583.2,397.0 Q588.5,400.8 594.0,400.5 Z" fill="#2a2a2a" stroke="none"/>
<path d="M594.0,400.5 Q592.8,394.9 587.9,390.2 Q589.7,396.8 594.0,400.5 Z" fill="#2a2a2a" stroke="none"/>
<path d="M594.0,400.5 Q600.0,401.1 606.1,397.3 Q598.9,397.0 594.0,400.5 Z" fill="#2a2a2a" stroke="none"/>
<path d="M594.0,400.5 Q594.3,406.7 597.7,413.5 Q597.0,406.0 594.0,400.5 Z" fill="#1a1a1a" stroke="none"/>
<path d="M594.0,400.5 Q587.0,399.8 579.4,403.6 Q587.9,404.0 594.0,400.5 Z" fill="#1a1a1a" stroke="none"/>
<path d="M594.0,400.5 Q597.8,396.9 599.8,390.9 Q595.4,395.5 594.0,400.5 Z" fill="#1a1a1a" stroke="none"/>
<circle cx="594.0" cy="400.5" r="2.2" fill="#222" stroke="none" stroke-width="0"/>
<circle cx="671.7" cy="693.0" r="72.6" fill="none" stroke="#777" stroke-width="1"/>
<polygon points="615.5,568.3 681.5,601.8 672.4,618.5 606.4,584.2" fill="none" stroke="#666" stroke-width="1"/>
<path d="M615.5,606.7 L648.5,622.9 M606.4,622.9 L615.5,606.7 M606.4,622.9 L627.7,633.1" fill="none" stroke="#666" stroke-width="1"/>
<line x1="671.2" y1="692.4" x2="732.3" y2="742.5" stroke="#888" stroke-width="0.8"/>
<line x1="672.2" y1="691.2" x2="733.3" y2="741.3" stroke="#888" stroke-width="0.8"/>
<polygon points="734.0,733.0 742.0,741.0 734.5,751.0 726.5,743.0" fill="none" stroke="#777" stroke-width="0.9"/>
<text x="162.6" y="771.1" font-size="16.5" font-weight="normal" text-anchor="start" textLength="95.4" lengthAdjust="spacingAndGlyphs" fill="#1a1a1a" stroke="#1a1a1a" stroke-width="0.25">PLANTA BAJA</text>
</g>
<g id="tables">
<line x1="928.5" y1="-2" x2="928.5" y2="52" stroke="#999999" stroke-width="1.3"/>
<line x1="1267.6" y1="-2" x2="1267.6" y2="52" stroke="#999999" stroke-width="1.3"/>
<line x1="928.5" y1="32.2" x2="1267.6" y2="32.2" stroke="#999999" stroke-width="1.3"/>
<line x1="928.5" y1="51.7" x2="1267.6" y2="51.7" stroke="#999999" stroke-width="1.3"/>
<line x1="1006.3" y1="32.2" x2="1006.3" y2="51.7" stroke="#999999" stroke-width="1.3"/>
<line x1="1055.2" y1="32.2" x2="1055.2" y2="51.7" stroke="#999999" stroke-width="1.3"/>
<line x1="1187.6" y1="32.2" x2="1187.6" y2="51.7" stroke="#999999" stroke-width="1.3"/>
<text x="1098.0" y="20.8" font-size="15.3" font-weight="bold" text-anchor="middle" textLength="106.0" lengthAdjust="spacingAndGlyphs" fill="#111" stroke="#111" stroke-width="0.4">Superficies utiles</text>
<text x="967.4" y="46.6" font-size="13.7" font-weight="bold" text-anchor="middle" textLength="66.4" lengthAdjust="spacingAndGlyphs" fill="#111" stroke="#111" stroke-width="0.4">Comentarios</text>
<text x="1030.8" y="46.6" font-size="13.7" font-weight="bold" text-anchor="middle" textLength="27.0" lengthAdjust="spacingAndGlyphs" fill="#111" stroke="#111" stroke-width="0.4">Nivel</text>
<text x="1058.1" y="46.6" font-size="13.7" font-weight="bold" text-anchor="start" textLength="41.6" lengthAdjust="spacingAndGlyphs" fill="#111" stroke="#111" stroke-width="0.4">Nombre</text>
<text x="1227.6" y="46.6" font-size="13.7" font-weight="bold" text-anchor="middle" textLength="25.0" lengthAdjust="spacingAndGlyphs" fill="#111" stroke="#111" stroke-width="0.4">Área</text>
<line x1="928.5" y1="71.7" x2="1267.6" y2="71.7" stroke="#999999" stroke-width="1.3"/>
<line x1="928.5" y1="108.4" x2="1267.6" y2="108.4" stroke="#999999" stroke-width="1.3"/>
<line x1="928.5" y1="71.7" x2="928.5" y2="108.4" stroke="#999999" stroke-width="1.3"/>
<line x1="1006.3" y1="71.7" x2="1006.3" y2="108.4" stroke="#999999" stroke-width="1.3"/>
<line x1="1055.2" y1="71.7" x2="1055.2" y2="108.4" stroke="#999999" stroke-width="1.3"/>
<line x1="1187.6" y1="71.7" x2="1187.6" y2="108.4" stroke="#999999" stroke-width="1.3"/>
<line x1="1267.6" y1="71.7" x2="1267.6" y2="108.4" stroke="#999999" stroke-width="1.3"/>
<text x="930.8" y="86.0" font-size="13.7" font-weight="bold" text-anchor="start" textLength="51.3" lengthAdjust="spacingAndGlyphs" fill="#111" stroke="#111" stroke-width="0.4">Edifiacion</text>
<text x="930.8" y="103.4" font-size="13.7" font-weight="bold" text-anchor="start" textLength="42.9" lengthAdjust="spacingAndGlyphs" fill="#111" stroke="#111" stroke-width="0.4">auxiliar</text>
<text x="1009.8" y="86.0" font-size="13.7" font-weight="bold" text-anchor="start" textLength="35.9" lengthAdjust="spacingAndGlyphs" fill="#111" stroke="#111" stroke-width="0.4">Nivel 1</text>
<text x="1058.1" y="86.0" font-size="13.7" font-weight="bold" text-anchor="start" textLength="43.6" lengthAdjust="spacingAndGlyphs" fill="#111" stroke="#111" stroke-width="0.4">Trastero</text>
<text x="1227.6" y="86.0" font-size="13.7" font-weight="bold" text-anchor="middle" textLength="42.4" lengthAdjust="spacingAndGlyphs" fill="#111" stroke="#111" stroke-width="0.4">6.01 m²</text>
<text x="930.8" y="122.9" font-size="13.7" font-weight="bold" text-anchor="start" textLength="98.6" lengthAdjust="spacingAndGlyphs" fill="#111" stroke="#111" stroke-width="0.4">Edifiacion auxiliar</text>
<text x="1227.6" y="122.9" font-size="13.7" font-weight="bold" text-anchor="middle" textLength="42.4" lengthAdjust="spacingAndGlyphs" fill="#111" stroke="#111" stroke-width="0.4">6.01 m²</text>
<line x1="928.5" y1="128.5" x2="1267.6" y2="128.5" stroke="#999999" stroke-width="1.3"/>
<line x1="928.5" y1="148.35" x2="1267.6" y2="148.35" stroke="#999999" stroke-width="1.3"/>
<text x="930.8" y="142.9" font-size="13.7" font-weight="bold" text-anchor="start" textLength="46.8" lengthAdjust="spacingAndGlyphs" fill="#111" stroke="#111" stroke-width="0.4">Vivienda</text>
<text x="1009.8" y="142.9" font-size="13.7" font-weight="bold" text-anchor="start" textLength="35.9" lengthAdjust="spacingAndGlyphs" fill="#111" stroke="#111" stroke-width="0.4">Nivel 1</text>
<text x="1058.1" y="142.9" font-size="13.7" font-weight="bold" text-anchor="start" textLength="87.1" lengthAdjust="spacingAndGlyphs" fill="#111" stroke="#111" stroke-width="0.4">Salon - Comedor</text>
<text x="1227.6" y="142.9" font-size="13.7" font-weight="bold" text-anchor="middle" textLength="49.2" lengthAdjust="spacingAndGlyphs" fill="#111" stroke="#111" stroke-width="0.4">35.23 m²</text>
<line x1="928.5" y1="168.2" x2="1267.6" y2="168.2" stroke="#999999" stroke-width="1.3"/>
<text x="930.8" y="162.8" font-size="13.7" font-weight="bold" text-anchor="start" textLength="46.8" lengthAdjust="spacingAndGlyphs" fill="#111" stroke="#111" stroke-width="0.4">Vivienda</text>
<text x="1009.8" y="162.8" font-size="13.7" font-weight="bold" text-anchor="start" textLength="35.9" lengthAdjust="spacingAndGlyphs" fill="#111" stroke="#111" stroke-width="0.4">Nivel 1</text>
<text x="1058.1" y="162.8" font-size="13.7" font-weight="bold" text-anchor="start" textLength="33.8" lengthAdjust="spacingAndGlyphs" fill="#111" stroke="#111" stroke-width="0.4">Cocina</text>
<text x="1227.6" y="162.8" font-size="13.7" font-weight="bold" text-anchor="middle" textLength="49.2" lengthAdjust="spacingAndGlyphs" fill="#111" stroke="#111" stroke-width="0.4">13.77 m²</text>
<line x1="928.5" y1="188.05" x2="1267.6" y2="188.05" stroke="#999999" stroke-width="1.3"/>
<text x="930.8" y="182.6" font-size="13.7" font-weight="bold" text-anchor="start" textLength="46.8" lengthAdjust="spacingAndGlyphs" fill="#111" stroke="#111" stroke-width="0.4">Vivienda</text>
<text x="1009.8" y="182.6" font-size="13.7" font-weight="bold" text-anchor="start" textLength="35.9" lengthAdjust="spacingAndGlyphs" fill="#111" stroke="#111" stroke-width="0.4">Nivel 1</text>
<text x="1058.1" y="182.6" font-size="13.7" font-weight="bold" text-anchor="start" textLength="49.7" lengthAdjust="spacingAndGlyphs" fill="#111" stroke="#111" stroke-width="0.4">Recibidor</text>
<text x="1227.6" y="182.6" font-size="13.7" font-weight="bold" text-anchor="middle" textLength="42.4" lengthAdjust="spacingAndGlyphs" fill="#111" stroke="#111" stroke-width="0.4">5.00 m²</text>
<line x1="928.5" y1="207.9" x2="1267.6" y2="207.9" stroke="#999999" stroke-width="1.3"/>
<text x="930.8" y="202.5" font-size="13.7" font-weight="bold" text-anchor="start" textLength="46.8" lengthAdjust="spacingAndGlyphs" fill="#111" stroke="#111" stroke-width="0.4">Vivienda</text>
<text x="1009.8" y="202.5" font-size="13.7" font-weight="bold" text-anchor="start" textLength="35.9" lengthAdjust="spacingAndGlyphs" fill="#111" stroke="#111" stroke-width="0.4">Nivel 1</text>
<text x="1058.1" y="202.5" font-size="13.7" font-weight="bold" text-anchor="start" textLength="63.8" lengthAdjust="spacingAndGlyphs" fill="#111" stroke="#111" stroke-width="0.4">Distribuidor</text>
<text x="1227.6" y="202.5" font-size="13.7" font-weight="bold" text-anchor="middle" textLength="48.5" lengthAdjust="spacingAndGlyphs" fill="#111" stroke="#111" stroke-width="0.4">11.93 m²</text>
<line x1="928.5" y1="227.75" x2="1267.6" y2="227.75" stroke="#999999" stroke-width="1.3"/>
<text x="930.8" y="222.3" font-size="13.7" font-weight="bold" text-anchor="start" textLength="46.8" lengthAdjust="spacingAndGlyphs" fill="#111" stroke="#111" stroke-width="0.4">Vivienda</text>
<text x="1009.8" y="222.3" font-size="13.7" font-weight="bold" text-anchor="start" textLength="35.9" lengthAdjust="spacingAndGlyphs" fill="#111" stroke="#111" stroke-width="0.4">Nivel 1</text>
<text x="1058.1" y="222.3" font-size="13.7" font-weight="bold" text-anchor="start" textLength="43.6" lengthAdjust="spacingAndGlyphs" fill="#111" stroke="#111" stroke-width="0.4">Armario</text>
<text x="1227.6" y="222.3" font-size="13.7" font-weight="bold" text-anchor="middle" textLength="42.4" lengthAdjust="spacingAndGlyphs" fill="#111" stroke="#111" stroke-width="0.4">1.93 m²</text>
<line x1="928.5" y1="247.60000000000002" x2="1267.6" y2="247.60000000000002" stroke="#999999" stroke-width="1.3"/>
<text x="930.8" y="242.2" font-size="13.7" font-weight="bold" text-anchor="start" textLength="46.8" lengthAdjust="spacingAndGlyphs" fill="#111" stroke="#111" stroke-width="0.4">Vivienda</text>
<text x="1009.8" y="242.2" font-size="13.7" font-weight="bold" text-anchor="start" textLength="35.9" lengthAdjust="spacingAndGlyphs" fill="#111" stroke="#111" stroke-width="0.4">Nivel 1</text>
<text x="1058.1" y="242.2" font-size="13.7" font-weight="bold" text-anchor="start" textLength="68.1" lengthAdjust="spacingAndGlyphs" fill="#111" stroke="#111" stroke-width="0.4">Dormitorio 2</text>
<text x="1227.6" y="242.2" font-size="13.7" font-weight="bold" text-anchor="middle" textLength="49.2" lengthAdjust="spacingAndGlyphs" fill="#111" stroke="#111" stroke-width="0.4">13.45 m²</text>
<line x1="928.5" y1="267.45000000000005" x2="1267.6" y2="267.45000000000005" stroke="#999999" stroke-width="1.3"/>
<text x="930.8" y="262.0" font-size="13.7" font-weight="bold" text-anchor="start" textLength="46.8" lengthAdjust="spacingAndGlyphs" fill="#111" stroke="#111" stroke-width="0.4">Vivienda</text>
<text x="1009.8" y="262.0" font-size="13.7" font-weight="bold" text-anchor="start" textLength="35.9" lengthAdjust="spacingAndGlyphs" fill="#111" stroke="#111" stroke-width="0.4">Nivel 1</text>
<text x="1058.1" y="262.0" font-size="13.7" font-weight="bold" text-anchor="start" textLength="68.1" lengthAdjust="spacingAndGlyphs" fill="#111" stroke="#111" stroke-width="0.4">Dormitorio 3</text>
<text x="1227.6" y="262.0" font-size="13.7" font-weight="bold" text-anchor="middle" textLength="49.2" lengthAdjust="spacingAndGlyphs" fill="#111" stroke="#111" stroke-width="0.4">14.32 m²</text>
<line x1="928.5" y1="287.3" x2="1267.6" y2="287.3" stroke="#999999" stroke-width="1.3"/>
<text x="930.8" y="281.9" font-size="13.7" font-weight="bold" text-anchor="start" textLength="46.8" lengthAdjust="spacingAndGlyphs" fill="#111" stroke="#111" stroke-width="0.4">Vivienda</text>
<text x="1009.8" y="281.9" font-size="13.7" font-weight="bold" text-anchor="start" textLength="35.9" lengthAdjust="spacingAndGlyphs" fill="#111" stroke="#111" stroke-width="0.4">Nivel 1</text>
<text x="1058.1" y="281.9" font-size="13.7" font-weight="bold" text-anchor="start" textLength="67.7" lengthAdjust="spacingAndGlyphs" fill="#111" stroke="#111" stroke-width="0.4">Dormitorio 4</text>
<text x="1227.6" y="281.9" font-size="13.7" font-weight="bold" text-anchor="middle" textLength="49.2" lengthAdjust="spacingAndGlyphs" fill="#111" stroke="#111" stroke-width="0.4">14.10 m²</text>
<line x1="928.5" y1="307.15" x2="1267.6" y2="307.15" stroke="#999999" stroke-width="1.3"/>
<text x="930.8" y="301.7" font-size="13.7" font-weight="bold" text-anchor="start" textLength="46.8" lengthAdjust="spacingAndGlyphs" fill="#111" stroke="#111" stroke-width="0.4">Vivienda</text>
<text x="1009.8" y="301.7" font-size="13.7" font-weight="bold" text-anchor="start" textLength="35.9" lengthAdjust="spacingAndGlyphs" fill="#111" stroke="#111" stroke-width="0.4">Nivel 1</text>
<text x="1058.1" y="301.7" font-size="13.7" font-weight="bold" text-anchor="start" textLength="36.7" lengthAdjust="spacingAndGlyphs" fill="#111" stroke="#111" stroke-width="0.4">Baño 2</text>
<text x="1227.6" y="301.7" font-size="13.7" font-weight="bold" text-anchor="middle" textLength="42.4" lengthAdjust="spacingAndGlyphs" fill="#111" stroke="#111" stroke-width="0.4">4.43 m²</text>
<line x1="928.5" y1="327.0" x2="1267.6" y2="327.0" stroke="#999999" stroke-width="1.3"/>
<text x="930.8" y="321.5" font-size="13.7" font-weight="bold" text-anchor="start" textLength="46.8" lengthAdjust="spacingAndGlyphs" fill="#111" stroke="#111" stroke-width="0.4">Vivienda</text>
<text x="1009.8" y="321.5" font-size="13.7" font-weight="bold" text-anchor="start" textLength="35.9" lengthAdjust="spacingAndGlyphs" fill="#111" stroke="#111" stroke-width="0.4">Nivel 1</text>
<text x="1058.1" y="321.5" font-size="13.7" font-weight="bold" text-anchor="start" textLength="24.4" lengthAdjust="spacingAndGlyphs" fill="#111" stroke="#111" stroke-width="0.4">Aseo</text>
<text x="1227.6" y="321.5" font-size="13.7" font-weight="bold" text-anchor="middle" textLength="42.4" lengthAdjust="spacingAndGlyphs" fill="#111" stroke="#111" stroke-width="0.4">3.27 m²</text>
<line x1="928.5" y1="346.85" x2="1267.6" y2="346.85" stroke="#999999" stroke-width="1.3"/>
<text x="930.8" y="341.4" font-size="13.7" font-weight="bold" text-anchor="start" textLength="46.8" lengthAdjust="spacingAndGlyphs" fill="#111" stroke="#111" stroke-width="0.4">Vivienda</text>
<text x="1009.8" y="341.4" font-size="13.7" font-weight="bold" text-anchor="start" textLength="35.9" lengthAdjust="spacingAndGlyphs" fill="#111" stroke="#111" stroke-width="0.4">Nivel 1</text>
<text x="1058.1" y="341.4" font-size="13.7" font-weight="bold" text-anchor="start" textLength="38.7" lengthAdjust="spacingAndGlyphs" fill="#111" stroke="#111" stroke-width="0.4">Galeria</text>
<text x="1227.6" y="341.4" font-size="13.7" font-weight="bold" text-anchor="middle" textLength="42.4" lengthAdjust="spacingAndGlyphs" fill="#111" stroke="#111" stroke-width="0.4">4.93 m²</text>
<line x1="928.5" y1="366.70000000000005" x2="1267.6" y2="366.70000000000005" stroke="#999999" stroke-width="1.3"/>
<text x="930.8" y="361.2" font-size="13.7" font-weight="bold" text-anchor="start" textLength="46.8" lengthAdjust="spacingAndGlyphs" fill="#111" stroke="#111" stroke-width="0.4">Vivienda</text>
<text x="1009.8" y="361.2" font-size="13.7" font-weight="bold" text-anchor="start" textLength="35.9" lengthAdjust="spacingAndGlyphs" fill="#111" stroke="#111" stroke-width="0.4">Nivel 1</text>
<text x="1058.1" y="361.2" font-size="13.7" font-weight="bold" text-anchor="start" textLength="84.5" lengthAdjust="spacingAndGlyphs" fill="#111" stroke="#111" stroke-width="0.4">Pergola (100%)</text>
<text x="1227.6" y="361.2" font-size="13.7" font-weight="bold" text-anchor="middle" textLength="49.2" lengthAdjust="spacingAndGlyphs" fill="#111" stroke="#111" stroke-width="0.4">27.68 m²</text>
<line x1="928.5" y1="386.55" x2="1267.6" y2="386.55" stroke="#999999" stroke-width="1.3"/>
<text x="930.8" y="381.1" font-size="13.7" font-weight="bold" text-anchor="start" textLength="46.8" lengthAdjust="spacingAndGlyphs" fill="#111" stroke="#111" stroke-width="0.4">Vivienda</text>
<text x="1009.8" y="381.1" font-size="13.7" font-weight="bold" text-anchor="start" textLength="35.9" lengthAdjust="spacingAndGlyphs" fill="#111" stroke="#111" stroke-width="0.4">Nivel 1</text>
<text x="1058.1" y="381.1" font-size="13.7" font-weight="bold" text-anchor="start" textLength="121.2" lengthAdjust="spacingAndGlyphs" fill="#111" stroke="#111" stroke-width="0.4">Paseo cubierto (100%)</text>
<text x="1227.6" y="381.1" font-size="13.7" font-weight="bold" text-anchor="middle" textLength="48.5" lengthAdjust="spacingAndGlyphs" fill="#111" stroke="#111" stroke-width="0.4">11.17 m²</text>
<line x1="928.5" y1="128.5" x2="928.5" y2="386.55" stroke="#999999" stroke-width="1.3"/>
<line x1="1006.3" y1="128.5" x2="1006.3" y2="386.55" stroke="#999999" stroke-width="1.3"/>
<line x1="1055.2" y1="128.5" x2="1055.2" y2="386.55" stroke="#999999" stroke-width="1.3"/>
<line x1="1187.6" y1="128.5" x2="1187.6" y2="386.55" stroke="#999999" stroke-width="1.3"/>
<line x1="1267.6" y1="128.5" x2="1267.6" y2="386.55" stroke="#999999" stroke-width="1.3"/>
<text x="930.8" y="400.9" font-size="13.7" font-weight="bold" text-anchor="start" textLength="46.8" lengthAdjust="spacingAndGlyphs" fill="#111" stroke="#111" stroke-width="0.4">Vivienda</text>
<text x="1227.6" y="400.9" font-size="13.7" font-weight="bold" text-anchor="middle" textLength="56.1" lengthAdjust="spacingAndGlyphs" fill="#111" stroke="#111" stroke-width="0.4">161.21 m²</text>
<text x="930.8" y="420.8" font-size="13.7" font-weight="bold" text-anchor="start" textLength="35.9" lengthAdjust="spacingAndGlyphs" fill="#111" stroke="#111" stroke-width="0.4">Nivel 1</text>
<text x="1227.6" y="420.8" font-size="13.7" font-weight="bold" text-anchor="middle" textLength="56.1" lengthAdjust="spacingAndGlyphs" fill="#111" stroke="#111" stroke-width="0.4">167.22 m²</text>
<line x1="928.5" y1="426.25" x2="1267.6" y2="426.25" stroke="#999999" stroke-width="1.3"/>
<line x1="928.5" y1="446.1" x2="1267.6" y2="446.1" stroke="#999999" stroke-width="1.3"/>
<text x="930.8" y="440.6" font-size="13.7" font-weight="bold" text-anchor="start" textLength="46.8" lengthAdjust="spacingAndGlyphs" fill="#111" stroke="#111" stroke-width="0.4">Vivienda</text>
<text x="1009.8" y="440.6" font-size="13.7" font-weight="bold" text-anchor="start" textLength="37.2" lengthAdjust="spacingAndGlyphs" fill="#111" stroke="#111" stroke-width="0.4">Nivel 2</text>
<text x="1058.1" y="440.6" font-size="13.7" font-weight="bold" text-anchor="start" textLength="59.0" lengthAdjust="spacingAndGlyphs" fill="#111" stroke="#111" stroke-width="0.4">Descansillo</text>
<text x="1227.6" y="440.6" font-size="13.7" font-weight="bold" text-anchor="middle" textLength="42.4" lengthAdjust="spacingAndGlyphs" fill="#111" stroke="#111" stroke-width="0.4">2.17 m²</text>
<line x1="928.5" y1="465.95" x2="1267.6" y2="465.95" stroke="#999999" stroke-width="1.3"/>
<text x="930.8" y="460.5" font-size="13.7" font-weight="bold" text-anchor="start" textLength="46.8" lengthAdjust="spacingAndGlyphs" fill="#111" stroke="#111" stroke-width="0.4">Vivienda</text>
<text x="1009.8" y="460.5" font-size="13.7" font-weight="bold" text-anchor="start" textLength="37.2" lengthAdjust="spacingAndGlyphs" fill="#111" stroke="#111" stroke-width="0.4">Nivel 2</text>
<text x="1058.1" y="460.5" font-size="13.7" font-weight="bold" text-anchor="start" textLength="43.9" lengthAdjust="spacingAndGlyphs" fill="#111" stroke="#111" stroke-width="0.4">Vestidor</text>
<text x="1227.6" y="460.5" font-size="13.7" font-weight="bold" text-anchor="middle" textLength="42.4" lengthAdjust="spacingAndGlyphs" fill="#111" stroke="#111" stroke-width="0.4">7.77 m²</text>
<line x1="928.5" y1="485.8" x2="1267.6" y2="485.8" stroke="#999999" stroke-width="1.3"/>
<text x="930.8" y="480.3" font-size="13.7" font-weight="bold" text-anchor="start" textLength="46.8" lengthAdjust="spacingAndGlyphs" fill="#111" stroke="#111" stroke-width="0.4">Vivienda</text>
<text x="1009.8" y="480.3" font-size="13.7" font-weight="bold" text-anchor="start" textLength="37.2" lengthAdjust="spacingAndGlyphs" fill="#111" stroke="#111" stroke-width="0.4">Nivel 2</text>
<text x="1058.1" y="480.3" font-size="13.7" font-weight="bold" text-anchor="start" textLength="34.9" lengthAdjust="spacingAndGlyphs" fill="#111" stroke="#111" stroke-width="0.4">Baño 1</text>
<text x="1227.6" y="480.3" font-size="13.7" font-weight="bold" text-anchor="middle" textLength="42.4" lengthAdjust="spacingAndGlyphs" fill="#111" stroke="#111" stroke-width="0.4">7.93 m²</text>
<line x1="928.5" y1="505.65" x2="1267.6" y2="505.65" stroke="#999999" stroke-width="1.3"/>
<text x="930.8" y="500.2" font-size="13.7" font-weight="bold" text-anchor="start" textLength="46.8" lengthAdjust="spacingAndGlyphs" fill="#111" stroke="#111" stroke-width="0.4">Vivienda</text>
<text x="1009.8" y="500.2" font-size="13.7" font-weight="bold" text-anchor="start" textLength="37.2" lengthAdjust="spacingAndGlyphs" fill="#111" stroke="#111" stroke-width="0.4">Nivel 2</text>
<text x="1058.1" y="500.2" font-size="13.7" font-weight="bold" text-anchor="start" textLength="65.7" lengthAdjust="spacingAndGlyphs" fill="#111" stroke="#111" stroke-width="0.4">Dormitorio 1</text>
<text x="1227.6" y="500.2" font-size="13.7" font-weight="bold" text-anchor="middle" textLength="49.2" lengthAdjust="spacingAndGlyphs" fill="#111" stroke="#111" stroke-width="0.4">20.21 m²</text>
<line x1="928.5" y1="525.5" x2="1267.6" y2="525.5" stroke="#999999" stroke-width="1.3"/>
<text x="930.8" y="520.0" font-size="13.7" font-weight="bold" text-anchor="start" textLength="46.8" lengthAdjust="spacingAndGlyphs" fill="#111" stroke="#111" stroke-width="0.4">Vivienda</text>
<text x="1009.8" y="520.0" font-size="13.7" font-weight="bold" text-anchor="start" textLength="37.2" lengthAdjust="spacingAndGlyphs" fill="#111" stroke="#111" stroke-width="0.4">Nivel 2</text>
<text x="1058.1" y="520.0" font-size="13.7" font-weight="bold" text-anchor="start" textLength="42.5" lengthAdjust="spacingAndGlyphs" fill="#111" stroke="#111" stroke-width="0.4">Escalera</text>
<text x="1227.6" y="520.0" font-size="13.7" font-weight="bold" text-anchor="middle" textLength="42.4" lengthAdjust="spacingAndGlyphs" fill="#111" stroke="#111" stroke-width="0.4">5.15 m²</text>
<line x1="928.5" y1="426.25" x2="928.5" y2="525.5" stroke="#999999" stroke-width="1.3"/>
<line x1="1006.3" y1="426.25" x2="1006.3" y2="525.5" stroke="#999999" stroke-width="1.3"/>
<line x1="1055.2" y1="426.25" x2="1055.2" y2="525.5" stroke="#999999" stroke-width="1.3"/>
<line x1="1187.6" y1="426.25" x2="1187.6" y2="525.5" stroke="#999999" stroke-width="1.3"/>
<line x1="1267.6" y1="426.25" x2="1267.6" y2="525.5" stroke="#999999" stroke-width="1.3"/>
<text x="930.8" y="539.9" font-size="13.7" font-weight="bold" text-anchor="start" textLength="46.8" lengthAdjust="spacingAndGlyphs" fill="#111" stroke="#111" stroke-width="0.4">Vivienda</text>
<text x="1227.6" y="539.9" font-size="13.7" font-weight="bold" text-anchor="middle" textLength="49.2" lengthAdjust="spacingAndGlyphs" fill="#111" stroke="#111" stroke-width="0.4">43.23 m²</text>
<text x="930.8" y="559.8" font-size="13.7" font-weight="bold" text-anchor="start" textLength="37.2" lengthAdjust="spacingAndGlyphs" fill="#111" stroke="#111" stroke-width="0.4">Nivel 2</text>
<text x="1227.6" y="559.8" font-size="13.7" font-weight="bold" text-anchor="middle" textLength="49.2" lengthAdjust="spacingAndGlyphs" fill="#111" stroke="#111" stroke-width="0.4">43.23 m²</text>
<text x="930.8" y="579.6" font-size="13.7" font-weight="bold" text-anchor="start" textLength="123.1" lengthAdjust="spacingAndGlyphs" fill="#111" stroke="#111" stroke-width="0.4">TOTAL SUPERFICIE UTIL</text>
<text x="1227.6" y="579.6" font-size="13.7" font-weight="bold" text-anchor="middle" textLength="56.1" lengthAdjust="spacingAndGlyphs" fill="#111" stroke="#111" stroke-width="0.4">210.45 m²</text>
<line x1="928.5" y1="615.2" x2="1261.7" y2="615.2" stroke="#999999" stroke-width="1.3"/>
<line x1="928.5" y1="648.4" x2="1261.7" y2="648.4" stroke="#999999" stroke-width="1.3"/>
<line x1="928.5" y1="668.0" x2="1261.7" y2="668.0" stroke="#999999" stroke-width="1.3"/>
<line x1="928.5" y1="615.2" x2="928.5" y2="668.0" stroke="#999999" stroke-width="1.3"/>
<line x1="1261.7" y1="615.2" x2="1261.7" y2="668.0" stroke="#999999" stroke-width="1.3"/>
<line x1="1182.0" y1="648.4" x2="1182.0" y2="668.0" stroke="#999999" stroke-width="1.3"/>
<text x="1095.1" y="637.0" font-size="15.3" font-weight="bold" text-anchor="middle" textLength="143.5" lengthAdjust="spacingAndGlyphs" fill="#111" stroke="#111" stroke-width="0.4">Superficies construidas</text>
<text x="1055.2" y="662.6" font-size="13.7" font-weight="bold" text-anchor="middle" textLength="41.6" lengthAdjust="spacingAndGlyphs" fill="#111" stroke="#111" stroke-width="0.4">Nombre</text>
<text x="1221.8" y="662.6" font-size="13.7" font-weight="bold" text-anchor="middle" textLength="25.0" lengthAdjust="spacingAndGlyphs" fill="#111" stroke="#111" stroke-width="0.4">Área</text>
<line x1="928.5" y1="688.1" x2="1261.7" y2="688.1" stroke="#999999" stroke-width="1.3"/>
<line x1="928.5" y1="707.9200000000001" x2="1261.7" y2="707.9200000000001" stroke="#999999" stroke-width="1.3"/>
<text x="930.8" y="702.5" font-size="13.7" font-weight="bold" text-anchor="start" textLength="63.0" lengthAdjust="spacingAndGlyphs" fill="#111" stroke="#111" stroke-width="0.4">Planta Baja</text>
<text x="1221.8" y="702.5" font-size="13.7" font-weight="bold" text-anchor="middle" textLength="56.1" lengthAdjust="spacingAndGlyphs" fill="#111" stroke="#111" stroke-width="0.4">147.35 m²</text>
<line x1="928.5" y1="727.74" x2="1261.7" y2="727.74" stroke="#999999" stroke-width="1.3"/>
<text x="930.8" y="722.3" font-size="13.7" font-weight="bold" text-anchor="start" textLength="84.5" lengthAdjust="spacingAndGlyphs" fill="#111" stroke="#111" stroke-width="0.4">Pergola (100%)</text>
<text x="1221.8" y="722.3" font-size="13.7" font-weight="bold" text-anchor="middle" textLength="49.2" lengthAdjust="spacingAndGlyphs" fill="#111" stroke="#111" stroke-width="0.4">27.30 m²</text>
<line x1="928.5" y1="747.5600000000001" x2="1261.7" y2="747.5600000000001" stroke="#999999" stroke-width="1.3"/>
<text x="930.8" y="742.1" font-size="13.7" font-weight="bold" text-anchor="start" textLength="121.2" lengthAdjust="spacingAndGlyphs" fill="#111" stroke="#111" stroke-width="0.4">Paseo cubierto (100%)</text>
<text x="1221.8" y="742.1" font-size="13.7" font-weight="bold" text-anchor="middle" textLength="48.5" lengthAdjust="spacingAndGlyphs" fill="#111" stroke="#111" stroke-width="0.4">11.86 m²</text>
<line x1="928.5" y1="767.38" x2="1261.7" y2="767.38" stroke="#999999" stroke-width="1.3"/>
<text x="930.8" y="762.0" font-size="13.7" font-weight="bold" text-anchor="start" textLength="82.1" lengthAdjust="spacingAndGlyphs" fill="#111" stroke="#111" stroke-width="0.4">Planta Primera</text>
<text x="1221.8" y="762.0" font-size="13.7" font-weight="bold" text-anchor="middle" textLength="49.2" lengthAdjust="spacingAndGlyphs" fill="#111" stroke="#111" stroke-width="0.4">53.08 m²</text>
<line x1="928.5" y1="787.2" x2="1261.7" y2="787.2" stroke="#999999" stroke-width="1.3"/>
<text x="930.8" y="781.8" font-size="13.7" font-weight="bold" text-anchor="start" textLength="43.6" lengthAdjust="spacingAndGlyphs" fill="#111" stroke="#111" stroke-width="0.4">Trastero</text>
<text x="1221.8" y="781.8" font-size="13.7" font-weight="bold" text-anchor="middle" textLength="42.4" lengthAdjust="spacingAndGlyphs" fill="#111" stroke="#111" stroke-width="0.4">8.17 m²</text>
<line x1="928.5" y1="807.02" x2="1261.7" y2="807.02" stroke="#999999" stroke-width="1.3"/>
<text x="930.8" y="801.6" font-size="13.7" font-weight="bold" text-anchor="start" textLength="34.3" lengthAdjust="spacingAndGlyphs" fill="#111" stroke="#111" stroke-width="0.4">Acceso</text>
<text x="1221.8" y="801.6" font-size="13.7" font-weight="bold" text-anchor="middle" textLength="42.4" lengthAdjust="spacingAndGlyphs" fill="#111" stroke="#111" stroke-width="0.4">1.19 m²</text>
<line x1="928.5" y1="688.1" x2="928.5" y2="807.02" stroke="#999999" stroke-width="1.3"/>
<line x1="1182.0" y1="688.1" x2="1182.0" y2="807.02" stroke="#999999" stroke-width="1.3"/>
<line x1="1261.7" y1="688.1" x2="1261.7" y2="807.02" stroke="#999999" stroke-width="1.3"/>
<text x="930.8" y="821.4" font-size="13.7" font-weight="bold" text-anchor="start" textLength="133.9" lengthAdjust="spacingAndGlyphs" fill="#111" stroke="#111" stroke-width="0.4">TOTAL SUP. CONSTRUIDA</text>
<text x="1221.8" y="821.4" font-size="13.7" font-weight="bold" text-anchor="middle" textLength="56.1" lengthAdjust="spacingAndGlyphs" fill="#111" stroke="#111" stroke-width="0.4">248.95 m²</text>
<text x="943.0" y="858.3" font-size="10" font-weight="normal" text-anchor="start" textLength="161.6" lengthAdjust="spacingAndGlyphs" fill="#333">SUPERFICIE PAVIMENTADA: 129.05 m²</text>
</g>
</svg>
</body></html>
